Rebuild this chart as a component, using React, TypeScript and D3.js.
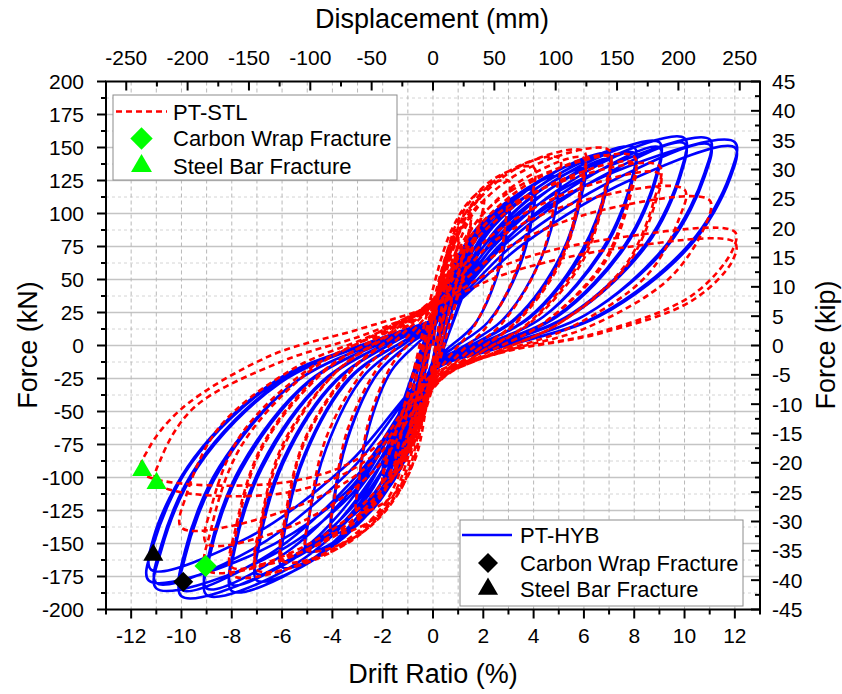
import React from 'react';
import * as d3 from 'd3';

const W = 842;
const H = 694;

// tick labels
const driftTicks = [-12, -10, -8, -6, -4, -2, 0, 2, 4, 6, 8, 10, 12];
const driftMinor = [-13, -11, -9, -7, -5, -3, -1, 1, 3, 5, 7, 9, 11, 13];
const kNTicks = [-200, -175, -150, -125, -100, -75, -50, -25, 0, 25, 50, 75, 100, 125, 150, 175, 200];
const kipTicks = [-45, -40, -35, -30, -25, -20, -15, -10, -5, 0, 5, 10, 15, 20, 25, 30, 35, 40, 45];
const mmTicks = [-250, -200, -150, -100, -50, 0, 50, 100, 150, 200, 250];
const MM_PER_PCT = 20.5; // column height 2050 mm

// PT-HYB (blue) cycles: flat [drift, force, drift, force, ...]
const hybCycles: number[][] = [
  [0.25, 30, 0.5, 40, 0.25, 14, -0.25, -30, -0.5, -40, -0.25, -14],
  [0.4, 40, 0.75, 52, 0.4, 18, -0.4, -40, -0.75, -53, -0.4, -18],
  [0.5, 46, 1, 62, 0.5, 22, -0.5, -46, -1, -62, -0.5, -22],
  [0.5, 40, 1, 59, 0.5, 20, -0.5, -42, -1, -60, -0.5, -20],
  [0.75, 58, 1.5, 76, 0.75, 26, -0.75, -60, -1.5, -80, -0.75, -28],
  [1, 68, 2, 90, 1, 30, -1, -72, -2, -98, -1, -34],
  [1, 60, 2, 87, 1, 28, -1, -64, -2, -94, -1, -32],
  [0.9, 64, 1.95, 93, 3, 106, 2.95, 89, 2.55, 53, 1.65, 16, 0.6, -2, 0, -12, -0.9, -77, -1.95, -112, -3, -124, -2.95, -104, -2.55, -62, -1.65, -19, -0.6, 2, 0, 12],
  [1.2, 71, 2.6, 104, 4, 118, 3.94, 99, 3.4, 59, 2.2, 18, 0.8, -2, 0, -14, -1.2, -88, -2.6, -128, -4, -142, -3.94, -119, -3.4, -71, -2.2, -21, -0.8, 3, 0, 14],
  [1.2, 60, 2.6, 96, 4, 115, 3.94, 97, 3.4, 58, 2.2, 18, 0.8, -2, 0, -14, -1.2, -74, -2.6, -118, -4, -138, -3.94, -116, -3.4, -70, -2.2, -21, -0.8, 3, 0, 14],
  [1.5, 77, 3.25, 113, 5, 128, 4.93, 108, 4.25, 64, 2.75, 19, 1, -3, 0, -15, -1.5, -97, -3.25, -140, -5, -156, -4.93, -131, -4.25, -78, -2.75, -23, -1, 3, 0, 15],
  [1.8, 83, 3.9, 121, 6, 138, 5.9, 116, 5.1, 69, 3.3, 21, 1.2, -3, 0, -16, -1.8, -104, -3.9, -151, -6, -168, -5.9, -141, -5.1, -84, -3.3, -25, -1.2, 3, 0, 16],
  [1.8, 70, 3.9, 112, 6, 134, 5.9, 113, 5.1, 67, 3.3, 20, 1.2, -3, 0, -16, -1.8, -88, -3.9, -140, -6, -163, -5.9, -137, -5.1, -82, -3.3, -24, -1.2, 3, 0, 16],
  [2.1, 87, 4.55, 128, 7, 145, 6.9, 122, 5.95, 73, 3.85, 22, 1.4, -3, 0, -17, -2.1, -110, -4.55, -160, -7, -178, -6.9, -150, -5.95, -89, -3.85, -27, -1.4, 4, 0, 17],
  [2.1, 72, 4.55, 117, 7, 141, 6.9, 118, 5.95, 70, 3.85, 21, 1.4, -3, 0, -17, -2.1, -91, -4.55, -148, -7, -173, -6.9, -145, -5.95, -86, -3.85, -26, -1.4, 4, 0, 17],
  [2.4, 90, 5.2, 132, 8, 150, 7.9, 126, 6.8, 75, 4.4, 22, 1.6, -3, 0, -18, -2.4, -115, -5.2, -167, -8, -186, -7.9, -156, -6.8, -93, -4.4, -28, -1.6, 4, 0, 18],
  [2.4, 75, 5.2, 121, 8, 146, 7.9, 123, 6.8, 73, 4.4, 22, 1.6, -3, 0, -18, -2.4, -95, -5.2, -155, -8, -181, -7.9, -152, -6.8, -90, -4.4, -27, -1.6, 4, 0, 18],
  [2.7, 92, 5.85, 136, 9, 154, 8.87, 129, 7.65, 77, 4.95, 23, 1.8, -3, 0, -18, -2.7, -117, -5.85, -170, -9, -189, -8.87, -159, -7.65, -95, -4.95, -28, -1.8, 4, 0, 18],
  [2.7, 77, 5.85, 124, 9, 150, 8.87, 126, 7.65, 75, 4.95, 22, 1.8, -3, 0, -18, -2.7, -97, -5.85, -157, -9, -184, -8.87, -155, -7.65, -92, -4.95, -27, -1.8, 4, 0, 18],
  [3, 94, 6.5, 138, 10, 157, 9.85, 132, 8.5, 78, 5.5, 24, 2, -3, 0, -19, -3, -118, -6.5, -171, -10, -190, -9.85, -160, -8.5, -95, -5.5, -28, -2, 4, 0, 19],
  [3, 79, 6.5, 126, 10, 153, 9.85, 129, 8.5, 76, 5.5, 23, 2, -3, 0, -19, -3, -98, -6.5, -158, -10, -185, -9.85, -155, -8.5, -92, -5.5, -28, -2, 4, 0, 19],
  [3.3, 94, 7.15, 137, 11, 156, 10.8, 131, 9.35, 78, 6.05, 23, 2.2, -3, 0, -19, -3.3, -114, -7.15, -166, -11, -184, -10.8, -155, -9.35, -92, -6.05, -28, -2.2, 4, 0, 19],
  [3.3, 78, 7.15, 125, 11, 152, 10.8, 128, 9.35, 76, 6.05, 23, 2.2, -3, 0, -19, -3.3, -95, -7.15, -154, -11, -180, -10.8, -151, -9.35, -90, -6.05, -27, -2.2, 4, 0, 19],
  [3.6, 92, 7.8, 136, 12, 154, 11.8, 129, 10.2, 77, 6.6, 23, 2.4, -3, 0, -19, -3.4, -110, -7.35, -160, -11.3, -178, -11.1, -150, -9.6, -89, -6.2, -27, -2.3, 4, 0, 19],
  [3.6, 77, 7.8, 125, 12, 150, 11.8, 126, 10.2, 75, 6.6, 22, 2.4, -3, 0, -19, -3.4, -90, -7.3, -145, -11.2, -170, -11.1, -145, -9.5, -85, -6.2, -26, -2.3, 4, 0, 19],
];

// PT-STL (red) cycles
const stlCycles: number[][] = [
  [0.25, 38, 0.5, 52, 0.25, 18, -0.25, -34, -0.5, -46, -0.25, -16],
  [0.4, 52, 0.75, 68, 0.4, 24, -0.4, -46, -0.75, -62, -0.4, -22],
  [0.5, 66, 1, 86, 0.5, 30, -0.5, -58, -1, -76, -0.5, -26],
  [0.5, 60, 1, 82, 0.5, 28, -0.5, -54, -1, -73, -0.5, -25],
  [0.75, 80, 1.5, 100, 0.75, 36, -0.75, -72, -1.5, -92, -0.75, -32],
  [0.75, 74, 1.5, 97, 0.75, 34, -0.75, -67, -1.5, -89, -0.75, -30],
  [1, 92, 2, 112, 1, 40, -1, -84, -2, -106, -1, -38],
  [1, 84, 2, 109, 1, 38, -1, -78, -2, -102, -1, -36],
  [0.75, 88, 1.8, 116, 3, 125, 2.94, 103, 2.55, 56, 1.65, 15, 0.75, -6, 0, -27, -0.75, -88, -1.8, -117, -3, -126, -2.94, -103, -2.55, -57, -1.65, -15, -0.75, 6, 0, 27],
  [1, 95, 2.4, 126, 4, 135, 3.92, 111, 3.4, 61, 2.2, 16, 1, -7, 0, -29, -1, -99, -2.4, -132, -4, -142, -3.92, -116, -3.4, -64, -2.2, -17, -1, 7, 0, 30],
  [1.25, 99, 3, 132, 5, 142, 4.9, 116, 4.25, 64, 2.75, 17, 1.25, -7, 0, -31, -1.25, -108, -3, -144, -5, -155, -4.9, -127, -4.25, -70, -2.75, -19, -1.25, 8, 0, 32],
  [1.5, 103, 3.6, 137, 6, 147, 5.88, 121, 5.1, 66, 3.3, 18, 1.5, -7, 0, -32, -1.5, -114, -3.6, -152, -6, -163, -5.88, -134, -5.1, -73, -3.3, -20, -1.5, 8, 0, 33],
  [1.5, 88, 3.6, 126, 6, 142, 5.88, 116, 5.1, 64, 3.3, 17, 1.5, -7, 0, -31, -1.5, -98, -3.6, -140, -6, -158, -5.88, -130, -5.1, -71, -3.3, -19, -1.5, 8, 0, 32],
  [1.75, 104, 4.2, 138, 7, 148, 6.86, 121, 5.95, 67, 3.85, 18, 1.75, -7, 0, -33, -1.75, -119, -4.2, -158, -7, -170, -6.86, -139, -5.95, -77, -3.85, -20, -1.75, 9, 0, 34],
  [1.75, 89, 4.2, 127, 7, 143, 6.86, 117, 5.95, 64, 3.85, 17, 1.75, -7, 0, -32, -1.75, -102, -4.2, -146, -7, -165, -6.86, -135, -5.95, -74, -3.85, -20, -1.75, 8, 0, 33],
  [2, 100, 4.8, 133, 8, 143, 7.84, 117, 6.8, 64, 4.4, 17, 2, -7, 0, -32, -2, -122, -4.8, -162, -8, -174, -7.84, -143, -6.8, -78, -4.4, -21, -2, 9, 0, 35],
  [2, 86, 4.8, 123, 8, 138, 7.84, 113, 6.8, 62, 4.4, 17, 2, -7, 0, -31, -2, -104, -4.8, -149, -8, -168, -7.84, -138, -6.8, -76, -4.4, -20, -2, 8, 0, 34],
  [2.25, 95, 5.4, 126, 9, 136, 8.82, 112, 7.65, 61, 4.95, 16, 2.25, -7, 0, -30, -2.25, -119, -5.4, -158, -9, -170, -8.82, -139, -7.65, -77, -4.95, -20, -2.25, 9, 0, 34],
  [2.25, 82, 5.4, 116, 9, 130, 8.82, 107, 7.65, 59, 4.95, 16, 2.25, -7, 0, -29, -2.25, -93, -5.4, -135, -9, -150, -8.82, -123, -7.65, -68, -4.95, -18, -2.25, 8, 0, 30],
  [2.5, 80, 6, 110, 10, 118, 9.8, 97, 8.5, 53, 5.5, 14, 2.5, -6, 0, -26, -2.5, -90, -6, -126, -10, -138, -9.8, -113, -8.5, -62, -5.5, -17, -2.5, 7, 0, 30],
  [2.75, 72, 6.6, 102, 11, 110, 10.8, 90, 9.35, 50, 6.05, 13, 2.75, -5, 0, -25, -2.5, -85, -6, -112, -11, -104, -10.8, -85, -9.5, -47, -6, -12, -2.75, 8, 0, 30],
  [3, 62, 7.5, 82, 12, 86, 11.9, 72, 10.3, 38, 6.6, 10, 3, -4, 0, -22, -2.5, -80, -6, -104, -11.6, -96, -11.3, -78, -10, -48, -6.5, -8, -3, 12, 0, 30],
  [3, 55, 7.5, 74, 12, 78, 11.9, 64, 10.3, 34, 6.6, 9, 3, -4, 0, -20],
];

// fracture markers [drift, force]
const stlCarbonWrap = [[-9.04, -167]];
const stlSteelBar = [[-11.56, -94.5], [-10.99, -104.4]];
const hybCarbonWrap = [[-9.93, -179]];
const hybSteelBar = [[-11.12, -158.7]];

const FONT = "'Liberation Sans', Arial, sans-serif";

const toPoints = (cycles: number[][]) => {
  const pts: [number, number][] = [[0, 0]];
  cycles.forEach((c) => {
    for (let i = 0; i < c.length; i += 2) pts.push([c[i], c[i + 1]]);
  });
  return pts;
};

export default function App() {
  const left = 106, right = 760, top = 81.5, bottom = 609.5;
  const x = d3.scaleLinear().domain([-13, 13]).range([left, right]);
  const y = d3.scaleLinear().domain([-200, 200]).range([bottom, top]);
  const xMm = d3.scaleLinear().domain([-13 * MM_PER_PCT, 13 * MM_PER_PCT]).range([left, right]);
  const yKip = d3.scaleLinear().domain([-45, 45]).range([bottom, top]);

  const line = d3
    .line<[number, number]>()
    .x((d) => x(d[0]))
    .y((d) => y(d[1]))
    .curve(d3.curveCatmullRom.alpha(0.5));

  const hybPath = line(toPoints(hybCycles)) || '';
  const stlPath = line(toPoints(stlCycles)) || '';

  const tri = d3.symbol().type(d3.symbolTriangle).size(175)() || '';
  const triL = d3.symbol().type(d3.symbolTriangle).size(190)() || '';
  const sq = d3.symbol().type(d3.symbolSquare).size(250)() || '';
  const sqS = d3.symbol().type(d3.symbolSquare).size(200)() || '';

  const vGrid = d3.range(-12, 13, 1);
  const hMajor = kNTicks.slice(1, -1);
  const hMinor = kNTicks.slice(0, -1).map((v) => v + 12.5);
  const kNMinor = hMinor;
  const kipMinor = kipTicks.slice(0, -1).map((v) => v + 2.5);
  const mmMinor = mmTicks.map((v) => v - 25).concat([275]).filter((v) => Math.abs(v) <= 13 * MM_PER_PCT);

  return (
    <svg width={W} height={H} style={{ display: 'block', position: 'absolute', left: 0, top: 0, background: '#fff' }} fontFamily={FONT}>
      <defs>
        <clipPath id="plotclip">
          <rect x={left} y={top} width={right - left} height={bottom - top} />
        </clipPath>
      </defs>
      <rect x={0} y={0} width={W} height={H} fill="#fff" />
      {/* grid */}
      <g>
        {hMinor.map((v) => (
          <line key={'hm' + v} x1={left} x2={right} y1={y(v)} y2={y(v)} stroke="#d4d4d4" strokeWidth={1} strokeDasharray="3,3" />
        ))}
        {hMajor.map((v) => (
          <line key={'hM' + v} x1={left} x2={right} y1={y(v)} y2={y(v)} stroke="#c4c4c4" strokeWidth={1.3} />
        ))}
        {vGrid.map((v) => (
          <line key={'v' + v} x1={x(v)} x2={x(v)} y1={top} y2={bottom} stroke="#b8b8b8" strokeWidth={1} strokeDasharray="4,3" />
        ))}
      </g>
      {/* series */}
      <g clipPath="url(#plotclip)">
        <path d={hybPath} fill="none" stroke="#0000ff" strokeWidth={2.6} strokeLinejoin="round" />
        <path d={stlPath} fill="none" stroke="#ff0000" strokeWidth={2.6} strokeDasharray="6,4" />
      </g>
      {/* markers */}
      <g>
        {stlSteelBar.map((d, i) => (
          <path key={'gs' + i} d={tri} transform={`translate(${x(d[0])},${y(d[1])})`} fill="#00ff00" />
        ))}
        {stlCarbonWrap.map((d, i) => (
          <path key={'gc' + i} d={sq} transform={`translate(${x(d[0])},${y(d[1])}) rotate(45)`} fill="#00ff00" />
        ))}
        {hybSteelBar.map((d, i) => (
          <path key={'bs' + i} d={tri} transform={`translate(${x(d[0])},${y(d[1])})`} fill="#000" />
        ))}
        {hybCarbonWrap.map((d, i) => (
          <path key={'bc' + i} d={sqS} transform={`translate(${x(d[0])},${y(d[1])}) rotate(45)`} fill="#000" />
        ))}
      </g>
      {/* legends */}
      <g>
        <rect x={113} y={95} width={284} height={85} fill="#fff" stroke="#8c8c8c" strokeWidth={1} />
        <line x1={116} x2={167} y1={111.5} y2={111.5} stroke="#ff0000" strokeWidth={2.6} strokeDasharray="6,4" />
        <text x={173} y={119.5} fontSize={22}>PT-STL</text>
        <path d={sq} transform="translate(141.5,138.5) rotate(45)" fill="#00ff00" />
        <text x={173} y={146} fontSize={22}>Carbon Wrap Fracture</text>
        <path d={triL} transform="translate(141.5,166)" fill="#00ff00" />
        <text x={173} y={174} fontSize={22}>Steel Bar Fracture</text>

        <rect x={460} y={520} width={283} height={86} fill="#fff" stroke="#8c8c8c" strokeWidth={1} />
        <line x1={462} x2={512} y1={535} y2={535} stroke="#0000ff" strokeWidth={2.6} />
        <text x={520} y={543} fontSize={22}>PT-HYB</text>
        <path d={sqS} transform="translate(488,563) rotate(45)" fill="#000" />
        <text x={520} y={571} fontSize={22}>Carbon Wrap Fracture</text>
        <path d={tri} transform="translate(488,589)" fill="#000" />
        <text x={520} y={597} fontSize={22}>Steel Bar Fracture</text>
      </g>
      {/* axes */}
      <g stroke="#000" strokeWidth={2}>
        {driftTicks.map((v) => (
          <line key={'bt' + v} x1={x(v)} x2={x(v)} y1={bottom} y2={bottom + 9} />
        ))}
        {driftMinor.map((v) => (
          <line key={'btm' + v} x1={x(v)} x2={x(v)} y1={bottom} y2={bottom + 5} />
        ))}
        {kNTicks.map((v) => (
          <line key={'lt' + v} x1={left - 9} x2={left} y1={y(v)} y2={y(v)} />
        ))}
        {kNMinor.map((v) => (
          <line key={'ltm' + v} x1={left - 5} x2={left} y1={y(v)} y2={y(v)} />
        ))}
        {mmTicks.map((v) => (
          <line key={'tt' + v} x1={xMm(v)} x2={xMm(v)} y1={top} y2={top + 9} />
        ))}
        {mmMinor.map((v) => (
          <line key={'ttm' + v} x1={xMm(v)} x2={xMm(v)} y1={top} y2={top + 5} />
        ))}
        {kipTicks.map((v) => (
          <line key={'rt' + v} x1={right - 9} x2={right} y1={yKip(v)} y2={yKip(v)} />
        ))}
        {kipMinor.map((v) => (
          <line key={'rtm' + v} x1={right - 5} x2={right} y1={yKip(v)} y2={yKip(v)} />
        ))}
        <rect x={left} y={top} width={right - left} height={bottom - top} fill="none" />
      </g>
      {/* tick labels */}
      <g fontSize={21} fill="#000">
        {driftTicks.map((v) => (
          <text key={'bl' + v} x={x(v)} y={643} textAnchor="middle">{String(v)}</text>
        ))}
        {kNTicks.map((v) => (
          <text key={'ll' + v} x={84} y={y(v) + 7.5} textAnchor="end">{String(v)}</text>
        ))}
        {mmTicks.map((v) => (
          <text key={'tl' + v} x={xMm(v)} y={65} textAnchor="middle">{String(v)}</text>
        ))}
        {kipTicks.map((v) => (
          <text key={'rl' + v} x={772} y={yKip(v) + 7.5} textAnchor="start">{String(v)}</text>
        ))}
      </g>
      {/* titles */}
      <g fontSize={27} fill="#000">
        <text x={432} y={28} textAnchor="middle">Displacement (mm)</text>
        <text x={433} y={683} textAnchor="middle">Drift Ratio (%)</text>
        <text transform="translate(37,345) rotate(-90)" textAnchor="middle">Force (kN)</text>
        <text transform="translate(835,345) rotate(-90)" textAnchor="middle">Force (kip)</text>
      </g>
    </svg>
  );
}
